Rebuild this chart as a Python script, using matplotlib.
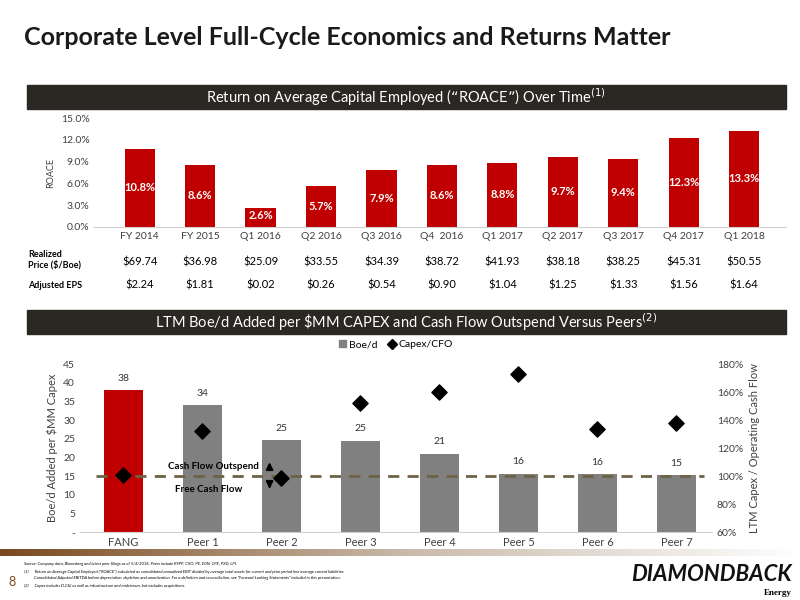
import matplotlib.pyplot as plt
import numpy as np
from matplotlib.colors import LinearSegmentedColormap
from matplotlib.lines import Line2D
from matplotlib.patches import Patch

periods = ['FY 2014', 'FY 2015', 'Q1 2016', 'Q2 2016', 'Q3 2016', 'Q4  2016',
           'Q1 2017', 'Q2 2017', 'Q3 2017', 'Q4 2017', 'Q1 2018']
roace = [10.8, 8.6, 2.6, 5.7, 7.9, 8.6, 8.8, 9.7, 9.4, 12.3, 13.3]
realized_price = ['$69.74', '$36.98', '$25.09', '$33.55', '$34.39', '$38.72',
                  '$41.93', '$38.18', '$38.25', '$45.31', '$50.55']
adjusted_eps = ['$2.24', '$1.81', '$0.02', '$0.26', '$0.54', '$0.90',
                '$1.04', '$1.25', '$1.33', '$1.56', '$1.64']

peers = ['FANG', 'Peer 1', 'Peer 2', 'Peer 3', 'Peer 4', 'Peer 5', 'Peer 6', 'Peer 7']
boed = [38, 34, 24.7, 24.5, 21, 15.6, 15.5, 15.2]
boed_labels = ['38', '34', '25', '25', '21', '16', '16', '15']
capex_cfo = [101, 132, 99, 152, 160, 173, 134, 138]

red = '#C00000'
grey = '#808080'
dark = '#2B2722'
plt.rcParams['font.family'] = ['Lato', 'DejaVu Sans']

fig = plt.figure(figsize=(8, 6), dpi=100)

fig.text(0.03, 0.937, 'Corporate Level Full-Cycle Economics and Returns Matter',
         fontsize=18, fontweight='bold', color='#1a1a1a', va='center')

def header(y, txt):
    fig.patches.append(plt.Rectangle((0.034, y), 0.948, 0.04, transform=fig.transFigure,
                                     color=dark, zorder=0))
    fig.text(0.508, y + 0.02, txt, color='white', fontsize=10.5, ha='center', va='center')

header(0.818, r'Return on Average Capital Employed (“ROACE”) Over Time$^{(1)}$')
header(0.443, r'LTM Boe/d Added per \$MM CAPEX and Cash Flow Outspend Versus Peers$^{(2)}$')

# top chart
ax1 = fig.add_axes([0.118, 0.622, 0.865, 0.181])
x = np.arange(len(periods))
ax1.bar(x, roace, width=0.5, color=red)
for i, v in enumerate(roace):
    ax1.text(i, v / 2 if v > 4 else v / 2 + 0.2, f'{v}%', color='white', fontsize=8,
             fontweight='bold', ha='center', va='center')
ax1.set_ylim(0, 15)
ax1.set_yticks([0, 3, 6, 9, 12, 15])
ax1.set_yticklabels([f'{t:.1f}%' for t in [0, 3, 6, 9, 12, 15]], fontsize=7.5, color='#404040')
ax1.set_xlim(-0.75, len(periods) - 0.3)
ax1.set_xticks(x)
ax1.set_xticklabels(periods, fontsize=7.5, color='#404040')
ax1.set_ylabel('ROACE', fontsize=6.5, color='#404040')
for s in ['top', 'right', 'left']:
    ax1.spines[s].set_visible(False)
ax1.spines['bottom'].set_color('#d0d0d0')
ax1.tick_params(length=0)

fig.text(0.035, 0.567, 'Realized\nPrice ($/Boe)', fontsize=6.5, fontweight='bold', va='center')
fig.text(0.035, 0.525, 'Adjusted EPS', fontsize=6.5, fontweight='bold', va='center')
for i in range(len(periods)):
    xf = ax1.transData.transform((i, 0))
    xf = fig.transFigure.inverted().transform(xf)[0]
    fig.text(xf, 0.563, realized_price[i], fontsize=8, ha='center', va='center')
    fig.text(xf, 0.525, adjusted_eps[i], fontsize=8, ha='center', va='center')

# bottom chart
ax2 = fig.add_axes([0.1, 0.113, 0.79, 0.28])
xp = np.arange(len(peers))
ax2.bar(xp, boed, width=0.5, color=[red] + [grey] * 7)
for i, v in enumerate(boed):
    ax2.text(i, v + 2, boed_labels[i], fontsize=7.5, ha='center', va='bottom', color='#333333')
ax2.set_ylim(0, 45)
ax2.set_yticks(range(0, 46, 5))
ax2.set_yticklabels(['-'] + [str(t) for t in range(5, 46, 5)], fontsize=7.5, color='#404040')
ax2.set_xlim(-0.55, len(peers) - 0.55)
ax2.set_xticks(xp)
ax2.set_xticklabels(peers, fontsize=8, color='#404040')
ax2.set_ylabel('Boe/d Added per $MM Capex', fontsize=8, color='#404040')
for s in ['top', 'right', 'left']:
    ax2.spines[s].set_visible(False)
ax2.spines['bottom'].set_color('#d0d0d0')
ax2.tick_params(length=0)

ax3 = ax2.twinx()
ax3.scatter(xp, capex_cfo, marker='D', s=60, color='black', zorder=5)
ax3.plot([-0.35, 7.35], [100, 100], color='#6B6343', lw=2, ls=(0, (4, 3)), zorder=4)
ax3.set_ylim(60, 180)
ax3.set_yticks(range(60, 181, 20))
ax3.set_yticklabels([f'{t}%' for t in range(60, 181, 20)], fontsize=7.5, color='#404040')
ax3.set_ylabel('LTM Capex / Operating Cash Flow', fontsize=8, color='#404040')
for s in ax3.spines.values():
    s.set_visible(False)
ax3.tick_params(length=0)

ax3.text(1.72, 104, 'Cash Flow Outspend', fontsize=7, fontweight='bold', ha='right', va='bottom')
ax3.text(1.5, 94, 'Free Cash Flow', fontsize=7, fontweight='bold', ha='right', va='top')
ax3.annotate('', xy=(1.85, 112), xytext=(1.85, 104), arrowprops=dict(arrowstyle='-|>', color='black', lw=1.5))
ax3.annotate('', xy=(1.85, 89), xytext=(1.85, 96), arrowprops=dict(arrowstyle='-|>', color='black', lw=1.5))

handles = [Patch(color=grey), Line2D([], [], marker='D', color='black', ls='', markersize=5)]
ax2.legend(handles, ['Boe/d', 'Capex/CFO'], loc='upper center', bbox_to_anchor=(0.5, 1.2), ncol=2,
           frameon=False, fontsize=7.5, handlelength=0.7, handleheight=0.7, handletextpad=0.3,
           columnspacing=1)

# footer
grad = np.linspace(0, 1, 256).reshape(1, -1)
fax = fig.add_axes([0, 0.073, 1, 0.012])
fax.imshow(grad, aspect='auto', cmap=LinearSegmentedColormap.from_list('g', ['#7a4a1e', '#c8b8a8', '#ffffff']))
fax.axis('off')
fig.text(0.01, 0.03, '8', fontsize=9, color='#7a4a1e', va='center')
fig.text(0.03, 0.058, 'Source: Company data, Bloomberg and latest peer filings as of 5/4/2018. Peers include RSPP, CXO, PE, EGN, CPE, PXD, LPI.',
         fontsize=3, style='italic')
fig.text(0.03, 0.045, '(1)      Return on Average Capital Employed ("ROACE") calculated as consolidated annualized EBIT divided by average total assets for current and prior period less average current liabilities.',
         fontsize=3, style='italic')
fig.text(0.03, 0.035, '          Consolidated Adjusted EBITDA before depreciation, depletion and amortization. For a definition and reconciliation, see "Forward-Looking Statements" included in this presentation.',
         fontsize=3, style='italic')
fig.text(0.03, 0.022, '(2)      Capex includes D,C&I as well as infrastructure and midstream, but excludes acquisitions.',
         fontsize=3, style='italic')
fig.text(0.99, 0.043, 'DIAMONDBACK', fontsize=16, fontweight='bold', style='italic', ha='right', va='center', color='#111111')
fig.text(0.99, 0.012, 'Energy', fontsize=6.5, fontweight='bold', ha='right', va='center', family='Liberation Serif')

fig.savefig('out.png', dpi=100)
